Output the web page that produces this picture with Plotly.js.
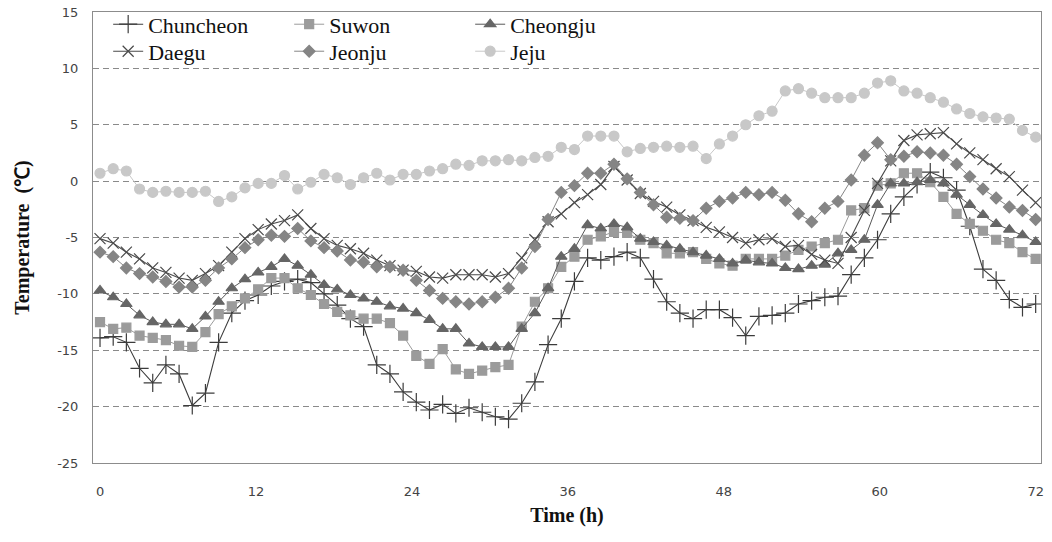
<!DOCTYPE html>
<html>
<head>
<meta charset="utf-8">
<script src="https://cdn.plot.ly/plotly-3.0.1.min.js"></script>
<style>html,body{margin:0;padding:0;background:#fff;}#chart{width:1052px;height:542px;}</style>
</head>
<body>
<div id="chart"></div>
<script>
// Hourly temperatures (°C), 72 samples spanning 0–72 h
const seriesNames = ["Chuncheon", "Suwon", "Cheongju", "Daegu", "Jeonju", "Jeju"];
const xTickVals = [0, 12, 24, 36, 48, 60, 72];
const yTickVals = [-25, -20, -15, -10, -5, 0, 5, 10, 15];

const chuncheon = [-13.9,-13.8,-14.3,-16.6,-17.9,-16.3,-17.1,-19.9,-18.8,-14.3,-11.7,-10.6,-10.1,-9.3,-8.9,-8.7,-9.0,-10.0,-11.0,-12.2,-12.9,-16.3,-17.1,-18.7,-19.6,-20.3,-19.8,-20.6,-20.1,-20.5,-20.9,-21.1,-19.7,-17.8,-14.5,-12.2,-8.9,-6.8,-7.0,-6.7,-6.3,-6.8,-8.7,-10.7,-11.7,-12.2,-11.4,-11.4,-12.1,-13.7,-12.0,-11.9,-11.7,-10.9,-10.6,-10.3,-10.2,-8.3,-6.8,-5.2,-2.9,-1.4,-0.3,0.8,0.3,-0.8,-4.0,-7.8,-8.8,-10.5,-11.2,-10.9];
const suwon = [-12.5,-13.1,-13.0,-13.7,-13.9,-14.1,-14.6,-14.7,-13.4,-11.8,-11.1,-10.4,-9.6,-8.6,-8.6,-9.5,-10.1,-10.9,-11.6,-11.9,-12.2,-12.2,-12.6,-13.7,-15.5,-16.2,-14.9,-16.7,-17.1,-16.8,-16.5,-16.3,-12.9,-10.7,-9.5,-7.6,-6.7,-5.2,-4.9,-4.5,-4.6,-5.2,-5.5,-6.4,-6.4,-6.3,-6.9,-7.3,-7.5,-6.9,-6.9,-6.9,-6.6,-6.1,-5.8,-5.5,-5.2,-2.6,-2.4,-0.4,-0.2,0.7,0.7,-0.1,-1.4,-2.9,-3.8,-4.4,-5.2,-5.5,-6.3,-6.9];
const cheongju = [-9.7,-10.3,-10.9,-11.9,-12.5,-12.7,-12.7,-13.1,-12.0,-10.7,-9.5,-8.7,-8.1,-7.6,-6.9,-7.5,-8.3,-9.2,-9.6,-10.1,-10.4,-10.7,-11.1,-11.3,-11.7,-12.3,-13.1,-13.1,-14.4,-14.7,-14.7,-14.7,-13.1,-11.7,-9.5,-6.7,-6.0,-3.9,-4.2,-3.8,-4.1,-5.1,-5.4,-5.7,-6.0,-6.3,-6.6,-6.9,-7.3,-7.0,-7.2,-7.3,-7.7,-7.8,-7.5,-7.4,-6.4,-6.1,-5.2,-2.1,-0.2,-0.2,-0.1,0.1,-0.2,-1.2,-2.1,-3.0,-3.8,-4.3,-4.8,-5.4];
const daegu = [-5.1,-5.5,-6.3,-6.9,-7.7,-8.1,-8.6,-8.8,-8.2,-7.5,-6.3,-5.1,-4.3,-3.8,-3.5,-3.0,-4.2,-5.1,-5.7,-6.0,-6.4,-7.0,-7.5,-7.9,-8.0,-8.5,-8.6,-8.3,-8.3,-8.3,-8.5,-8.2,-6.8,-5.2,-3.6,-2.9,-1.9,-1.2,-0.3,1.3,0.1,-1.1,-1.8,-2.3,-3.0,-3.5,-4.1,-4.5,-5.0,-5.5,-5.2,-5.1,-5.8,-5.7,-6.5,-7.0,-7.3,-5.0,-2.6,-0.2,1.8,3.6,4.1,4.2,4.3,3.3,2.5,1.9,1.1,0.4,-0.8,-1.9];
const jeonju = [-6.3,-6.7,-7.7,-8.2,-8.5,-8.9,-9.4,-9.4,-8.8,-7.7,-6.9,-5.9,-5.2,-4.8,-4.9,-4.2,-5.3,-5.9,-6.2,-7.0,-7.2,-7.6,-7.6,-7.9,-8.8,-9.7,-10.4,-10.7,-10.9,-10.7,-10.3,-9.5,-7.7,-5.8,-3.4,-1.0,-0.4,0.7,0.7,1.5,0.2,-1.0,-2.1,-3.2,-3.3,-3.5,-2.4,-1.8,-1.5,-1.0,-1.2,-1.0,-1.7,-2.9,-3.6,-2.4,-1.8,0.1,2.3,3.4,1.9,2.2,2.6,2.5,2.3,1.5,0.4,-0.7,-1.5,-2.3,-2.6,-3.4];
const jeju = [0.7,1.1,0.9,-0.7,-1.0,-0.9,-1.0,-1.0,-0.9,-1.8,-1.4,-0.6,-0.2,-0.2,0.5,-0.7,-0.1,0.6,0.3,-0.3,0.3,0.7,0.1,0.6,0.6,0.9,1.1,1.5,1.4,1.8,1.8,1.9,1.8,2.1,2.2,3.0,2.8,4.0,4.0,4.0,2.6,2.9,3.0,3.1,3.0,3.1,2.0,3.3,4.0,5.0,5.8,6.2,8.0,8.2,7.8,7.4,7.4,7.4,7.8,8.7,8.9,8.0,7.8,7.4,7.0,6.4,6.0,5.7,5.6,5.5,4.5,3.9];

const allSeries = [chuncheon, suwon, cheongju, daegu, jeonju, jeju];
const n = chuncheon.length;
const hours = chuncheon.map((_, i) => i * 72 / (n - 1));

const styles = [
  {color: '#3c3c3c', symbol: 'cross-thin-open', size: 13, mcolor: '#3c3c3c', lw: 1.1, legend: 'legend'},
  {color: '#9b9b9b', symbol: 'square', size: 9, mcolor: '#9b9b9b', lw: 1, legend: 'legend'},
  {color: '#585858', symbol: 'triangle-up', size: 10, mcolor: '#666666', lw: 1, legend: 'legend'},
  {color: '#4a4a4a', symbol: 'x-thin-open', size: 11, mcolor: '#4a4a4a', lw: 1.1, legend: 'legend2'},
  {color: '#858585', symbol: 'diamond', size: 9, mcolor: '#858585', lw: 1, legend: 'legend2'},
  {color: '#c8c8c8', symbol: 'circle', size: 10, mcolor: '#c8c8c8', lw: 1, legend: 'legend2'}
];

const traces = allSeries.map((ys, k) => ({
  type: 'scatter', mode: 'lines+markers', name: seriesNames[k],
  x: hours, y: ys, legend: styles[k].legend,
  line: {color: styles[k].color, width: styles[k].lw},
  marker: {symbol: styles[k].symbol, size: styles[k].size, color: styles[k].mcolor,
           line: {color: styles[k].mcolor, width: 1.2}}
}));

const legendCommon = {
  orientation: 'h', xanchor: 'left', yanchor: 'top', x: 0.016, yref: 'container',
  entrywidth: 136, entrywidthmode: 'pixels', bgcolor: 'rgba(0,0,0,0)',
  font: {family: 'Liberation Serif', size: 22, color: '#111'},
  tracegroupgap: 0
};

const layout = {
  width: 1052, height: 542,
  margin: {l: 93, r: 11, t: 12, b: 79, autoexpand: false},
  paper_bgcolor: '#ffffff', plot_bgcolor: '#ffffff',
  showlegend: true,
  legend: Object.assign({}, legendCommon, {y: 0.9937}),
  legend2: Object.assign({}, legendCommon, {y: 0.9439}),
  xaxis: {
    range: [-0.54, 72.41], tickvals: xTickVals, ticktext: xTickVals.map(String),
    showgrid: false, zeroline: false, showline: true, mirror: true,
    linecolor: '#8c8c8c', linewidth: 1,
    ticks: 'outside', ticklen: 16, tickcolor: 'rgba(0,0,0,0)',
    tickfont: {family: 'DejaVu Sans', size: 13, color: '#444'},
    title: {text: 'Time (h)', standoff: 10, font: {family: 'Liberation Serif', size: 20, color: '#111', weight: 'bold'}}
  },
  yaxis: {
    range: [-25, 15], tickvals: yTickVals, ticktext: yTickVals.map(String),
    showgrid: true, gridcolor: '#8a8a8a', gridwidth: 1, griddash: '6px,4px',
    zeroline: false, showline: true, mirror: true,
    linecolor: '#8c8c8c', linewidth: 1,
    ticks: 'outside', ticklen: 11, tickcolor: 'rgba(0,0,0,0)',
    tickfont: {family: 'DejaVu Sans', size: 13, color: '#444'},
    title: {text: 'Temperature  (℃)', standoff: 22, font: {family: 'Liberation Serif', size: 20, color: '#111', weight: 'bold'}}
  }
};

Plotly.newPlot('chart', traces, layout, {displayModeBar: false, staticPlot: true});
</script>
</body>
</html>
